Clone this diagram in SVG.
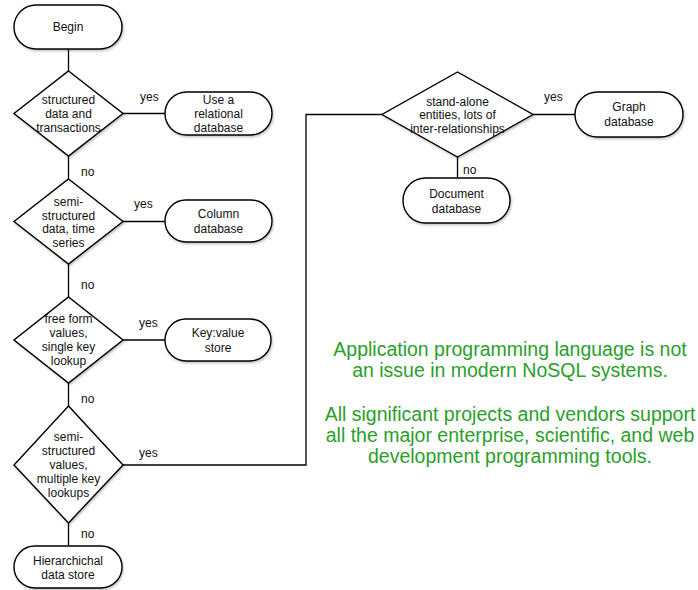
<svg xmlns="http://www.w3.org/2000/svg" width="698" height="590" viewBox="0 0 698 590">
  <style>
    .shape { fill: #ffffff; stroke: #000000; stroke-width: 1.4; filter: url(#shadow); }
    .line { fill: none; stroke: #000000; stroke-width: 1.3; }
    .t { font-family: "Liberation Sans", Arial, sans-serif; font-size: 12px; fill: #111111; text-anchor: middle; dominant-baseline: central; }
    .lbl { font-family: "Liberation Sans", Arial, sans-serif; font-size: 12px; fill: #111111; dominant-baseline: central; }
    .note { font-family: "Liberation Sans", Arial, sans-serif; font-size: 19.5px; fill: #2aa02a; text-anchor: middle; }
  </style>
  <defs>
    <filter id="shadow" x="-10%" y="-10%" width="130%" height="130%">
      <feDropShadow dx="1" dy="1.5" stdDeviation="1.2" flood-color="#000000" flood-opacity="0.25"/>
    </filter>
  </defs>
  <rect width="698" height="590" fill="#ffffff"/>

  <!-- connectors -->
  <g id="connectors">
    <path class="line" d="M68.5,49 V71"/>
    <path class="line" d="M123,113.5 H165"/>
    <path class="line" d="M68.5,156 V179"/>
    <path class="line" d="M123,221.5 H165"/>
    <path class="line" d="M68.5,264 V297"/>
    <path class="line" d="M123,340 H165"/>
    <path class="line" d="M68.5,383 V406"/>
    <path class="line" d="M123,465 H306 V114.5 H382"/>
    <path class="line" d="M68.5,523 V546"/>
    <path class="line" d="M533,114.5 H575"/>
    <path class="line" d="M457.5,157 V178"/>
    <text class="lbl" x="140" y="97">yes</text>
    <text class="lbl" x="81" y="172">no</text>
    <text class="lbl" x="134" y="204">yes</text>
    <text class="lbl" x="81" y="285">no</text>
    <text class="lbl" x="139" y="323">yes</text>
    <text class="lbl" x="81" y="399">no</text>
    <text class="lbl" x="139" y="453">yes</text>
    <text class="lbl" x="81" y="534">no</text>
    <text class="lbl" x="544" y="97">yes</text>
    <text class="lbl" x="463" y="170">no</text>
  </g>

  <g id="begin">
    <rect class="shape" x="14" y="5" width="108" height="44" rx="22"/>
    <text class="t" x="68" y="27">Begin</text>
  </g>

  <g id="q-structured">
    <polygon class="shape" points="68.5,71 123,113.5 68.5,156 14,113.5"/>
    <text class="t" x="68.5" y="100">structured</text>
    <text class="t" x="68.5" y="114">data and</text>
    <text class="t" x="68.5" y="128">transactions</text>
  </g>

  <g id="relational">
    <rect class="shape" x="165" y="92" width="107" height="43" rx="21.5"/>
    <text class="t" x="218.5" y="99.5">Use a</text>
    <text class="t" x="218.5" y="113.5">relational</text>
    <text class="t" x="218.5" y="127.5">database</text>
  </g>

  <g id="q-semi-time">
    <polygon class="shape" points="68.5,179 123,221.5 68.5,264 14,221.5"/>
    <text class="t" x="68.5" y="202">semi-</text>
    <text class="t" x="68.5" y="215.5">structured</text>
    <text class="t" x="68.5" y="229">data, time</text>
    <text class="t" x="68.5" y="242.5">series</text>
  </g>

  <g id="column">
    <rect class="shape" x="165" y="200" width="107" height="42" rx="21"/>
    <text class="t" x="218.5" y="214">Column</text>
    <text class="t" x="218.5" y="229">database</text>
  </g>

  <g id="q-freeform">
    <polygon class="shape" points="68.5,297 123,340 68.5,383 14,340"/>
    <text class="t" x="68.5" y="319">free form</text>
    <text class="t" x="68.5" y="333">values,</text>
    <text class="t" x="68.5" y="347">single key</text>
    <text class="t" x="68.5" y="361">lookup</text>
  </g>

  <g id="keyvalue">
    <rect class="shape" x="165" y="319" width="106" height="42" rx="21"/>
    <text class="t" x="218" y="333">Key:value</text>
    <text class="t" x="218" y="348">store</text>
  </g>

  <g id="q-semi-values">
    <polygon class="shape" points="68.5,406 123,465 68.5,523 14,465"/>
    <text class="t" x="68.5" y="437">semi-</text>
    <text class="t" x="68.5" y="451">structured</text>
    <text class="t" x="68.5" y="465">values,</text>
    <text class="t" x="68.5" y="479">multiple key</text>
    <text class="t" x="68.5" y="493">lookups</text>
  </g>

  <g id="hierarchical">
    <rect class="shape" x="14" y="546" width="108" height="42" rx="21"/>
    <text class="t" x="68" y="561">Hierarchichal</text>
    <text class="t" x="68" y="575">data store</text>
  </g>

  <g id="q-standalone">
    <polygon class="shape" points="457.5,72 533,114.5 457.5,157 382,114.5"/>
    <text class="t" x="457.5" y="101.5">stand-alone</text>
    <text class="t" x="457.5" y="115">entities, lots of</text>
    <text class="t" x="457.5" y="129">inter-relationships</text>
  </g>

  <g id="graph">
    <rect class="shape" x="575" y="92" width="108" height="45" rx="22.5"/>
    <text class="t" x="629" y="107">Graph</text>
    <text class="t" x="629" y="122">database</text>
  </g>

  <g id="document">
    <rect class="shape" x="403" y="178" width="107" height="45" rx="22.5"/>
    <text class="t" x="456.5" y="194">Document</text>
    <text class="t" x="456.5" y="209">database</text>
  </g>

  <g id="note">
    <text class="note" x="510" y="356">Application programming language is not</text>
    <text class="note" x="510" y="377">an issue in modern NoSQL systems.</text>
    <text class="note" x="510" y="421">All significant projects and vendors support</text>
    <text class="note" x="510" y="442">all the major enterprise, scientific, and web</text>
    <text class="note" x="510" y="463">development programming tools.</text>
  </g>
</svg>
